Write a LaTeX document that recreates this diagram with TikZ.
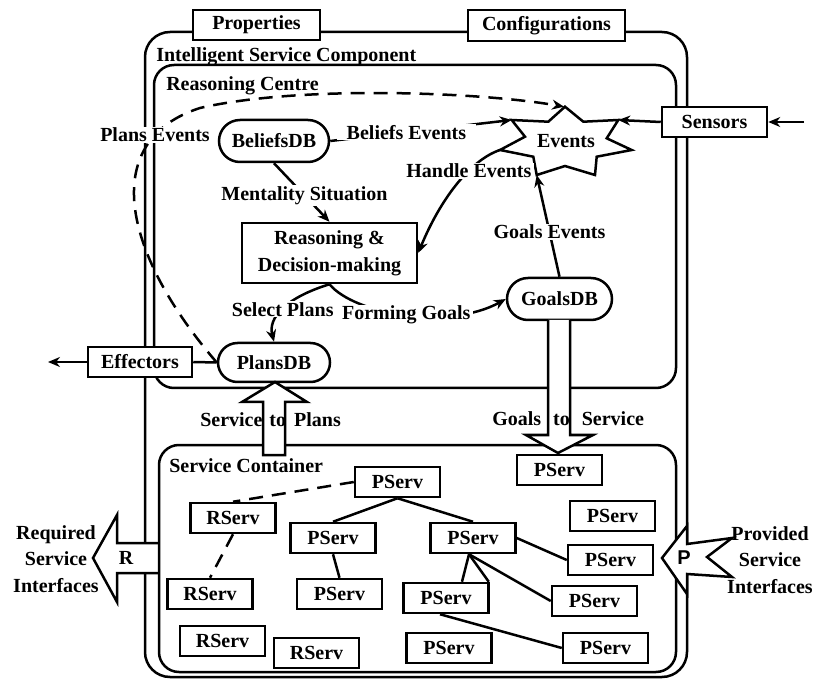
\documentclass[tikz,border=0pt]{standalone}
\usepackage{fontspec}
\setmainfont{Liberation Serif}
\newfontfamily\arialfont{Liberation Sans}
\usetikzlibrary{shapes.misc,arrows.meta}
\begin{document}
\begin{tikzpicture}[x=1pt,y=-1pt,line width=2.5pt,
  every node/.style={font=\fontsize{20}{24}\selectfont\bfseries, inner sep=0pt},
  container/.style={draw, rectangle, rounded corners=20pt},
  sbox/.style={draw, fill=white, rectangle, minimum width=85pt, minimum height=30pt},
  tbox/.style={draw, fill=white, rectangle, minimum height=30pt},
  dbnode/.style={draw, fill=white, rounded rectangle, minimum height=42pt},
  lbl/.style={fill=white, inner xsep=3pt, inner ysep=1pt},
  arr/.style={-{Stealth[length=12pt,width=10pt]}},
  dsh/.style={dash pattern=on 14pt off 9pt},
  hollow/.style={draw, fill=white, line join=miter}]
\fill[white] (0,0) rectangle (815,679);
\useasboundingbox (0,0) rectangle (815,679);

% containers
\node[container, rounded corners=25pt, minimum width=542pt, minimum height=645pt] (isc) at (416,354.5) {};
\node[container, minimum width=522pt, minimum height=323pt] (rc) at (415,226.5) {};

% top boxes
\node[tbox, minimum width=127pt] (prop) at (256.5,25) {Properties};
\node[tbox, minimum width=157pt, minimum height=31pt] (conf) at (546.5,25.5) {Configurations};

% titles
\node[anchor=base west] (tisc) at (155,62) {Intelligent Service Component};
\node[anchor=base west] (trc) at (165,91) {Reasoning Centre};

% R interface arrow
\filldraw[hollow] (159,543) -- (117,543) -- (117,515) -- (93,558) -- (117,602) -- (117,573) -- (159,573);
\node (rl) at (126,558) {R};

% service container
\node[container, minimum width=517pt, minimum height=227pt] (sc) at (417.5,558.5) {};
\node[anchor=base west] (tsc) at (168,472) {Service Container};

% P interface arrow
\filldraw[hollow] (662,558) -- (687,526) -- (687,544) -- (732,538) -- (707,557) -- (732,577) -- (687,574) -- (687,594) -- cycle;
\node (pl) at (684,558) {\arialfont P};

% interface texts
\node[align=center, font=\fontsize{20}{26.5}\selectfont\bfseries] (req) at (56,559) {Required\\Service\\Interfaces};
\node[align=center, font=\fontsize{20}{26.5}\selectfont\bfseries] (prov) at (770,560) {Provided\\Service\\Interfaces};

% Events star
\draw[fill=white, line join=miter] (511.7,120) -- (548.3,121.7) -- (565,106.7) -- (583.3,121.7) -- (618.3,120)
  -- (606.7,138.3) -- (631.7,150) -- (596.7,156.7) -- (595,175) -- (565,166) -- (536.7,175)
  -- (533.3,156.7) -- (500,150) -- (525,136.7) -- cycle;
\coordinate (evTL) at (511.7,120);
\coordinate (evT) at (564,106.7);
\coordinate (evTR) at (618.3,120);
\coordinate (evL) at (500,150);
\coordinate (evBL) at (536.7,175);
\node (ev) at (566,141) {Events};

% reasoning centre nodes
\node[dbnode, minimum width=110pt] (beliefs) at (274,141) {BeliefsDB};
\node[dbnode, minimum width=105pt] (goals) at (559.5,299) {GoalsDB};
\node[dbnode, minimum width=112pt, minimum height=39pt] (plans) at (274,362.5) {PlansDB};
\node[draw, fill=white, rectangle, minimum width=175pt, minimum height=60pt, align=center,
      font=\fontsize{20}{27}\selectfont\bfseries] (reason) at (329.5,253) {Reasoning \&\\Decision-making};
\node[tbox, minimum width=105pt] (sensors) at (714.5,122) {Sensors};
\node[tbox, minimum width=104pt] (effectors) at (140,362) {Effectors};
\coordinate (sensin) at (804,122);
\coordinate (effout) at (48,362);

% connectors in reasoning centre
\draw[arr] (beliefs.east) -- node[lbl, pos=0.42, inner xsep=10pt] {Beliefs Events} (evTL);
\draw[arr] (beliefs.south) -- node[lbl, pos=0.55] {Mentality Situation} (reason.north);
\draw[arr] (evL) .. controls (470,160) and (440,200) .. node[lbl, pos=0.35] {Handle Events} (reason.east);
\draw[arr] (goals.north) -- node[lbl, pos=0.44] {Goals Events} (evBL);
\draw[arr] (reason.south) .. controls (355,315) and (450,330) .. node[lbl, pos=0.5] {Forming Goals} (goals.west);
\draw[arr] (reason.south) .. controls (285,298) and (268,318) .. node[lbl, pos=0.5] {Select Plans} (plans.north);
\draw[arr] (sensors.west) -- (evTR);
\draw[arr] (sensin) -- (sensors.east);
\draw (plans.west) -- (effectors.east);
\draw[arr] (effectors.west) -- (effout);
\draw[arr, dsh] (plans.west) .. controls (120,250) and (100,140) .. (200,108)
  .. controls (300,85) and (480,92) .. (evT);
\node[lbl] (pelbl) at (155,135) {Plans Events};

% hollow arrows
\filldraw[hollow] (263,455) -- (263,402) -- (242,402) -- (275,382) -- (307,402) -- (285,402) -- (285,455) -- cycle;
\node[anchor=west] (stp) at (199,420) {Service\hskip7pt to\hskip8pt Plans};
\filldraw[hollow] (548,320) -- (548,435) -- (526,435) -- (558,453) -- (593,435) -- (570,435) -- (570,320);
\node[anchor=west] (gts) at (491,419) {Goals\hskip12pt to\hskip12pt Service};

% service container boxes
\node[sbox] (p1) at (397.5,482) {PServ};
\node[sbox] (r1) at (233,518) {RServ};
\node[sbox] (p2) at (333,538) {PServ};
\node[sbox] (r2) at (210,594) {RServ};
\node[sbox] (p3) at (339.5,594) {PServ};
\node[sbox] (r3) at (222.5,641) {RServ};
\node[sbox] (r4) at (316.5,653) {RServ};
\node[sbox] (pgs) at (559.5,470) {PServ};
\node[sbox] (pa) at (612.5,516) {PServ};
\node[sbox] (pm) at (473,538) {PServ};
\node[sbox] (pb) at (610.5,560) {PServ};
\node[sbox] (pc) at (446,598) {PServ};
\node[sbox] (pd) at (594.5,601) {PServ};
\node[sbox] (pe) at (449,648) {PServ};
\node[sbox] (pf) at (605.5,648) {PServ};

\draw[dsh] (p1.west) -- (r1.north);
\draw[dsh] (r1.south) -- (r2.north);
\draw (p1.south) -- (p2.north);
\draw (p1.south) -- (pm.north);
\draw (p2.south) -- (p3.north);
\draw (pm.east) -- (pb.west);
\draw ([xshift=-4pt]pm.south) -- (pd.west);
\draw ([xshift=-4pt]pm.south) -- ([xshift=16pt]pc.north);
\draw ([xshift=-4pt]pm.south) -- ([xshift=-1pt]pc.north east);
\draw ([xshift=-6pt]pc.south) -- (pf.west);
\end{tikzpicture}
\end{document}
